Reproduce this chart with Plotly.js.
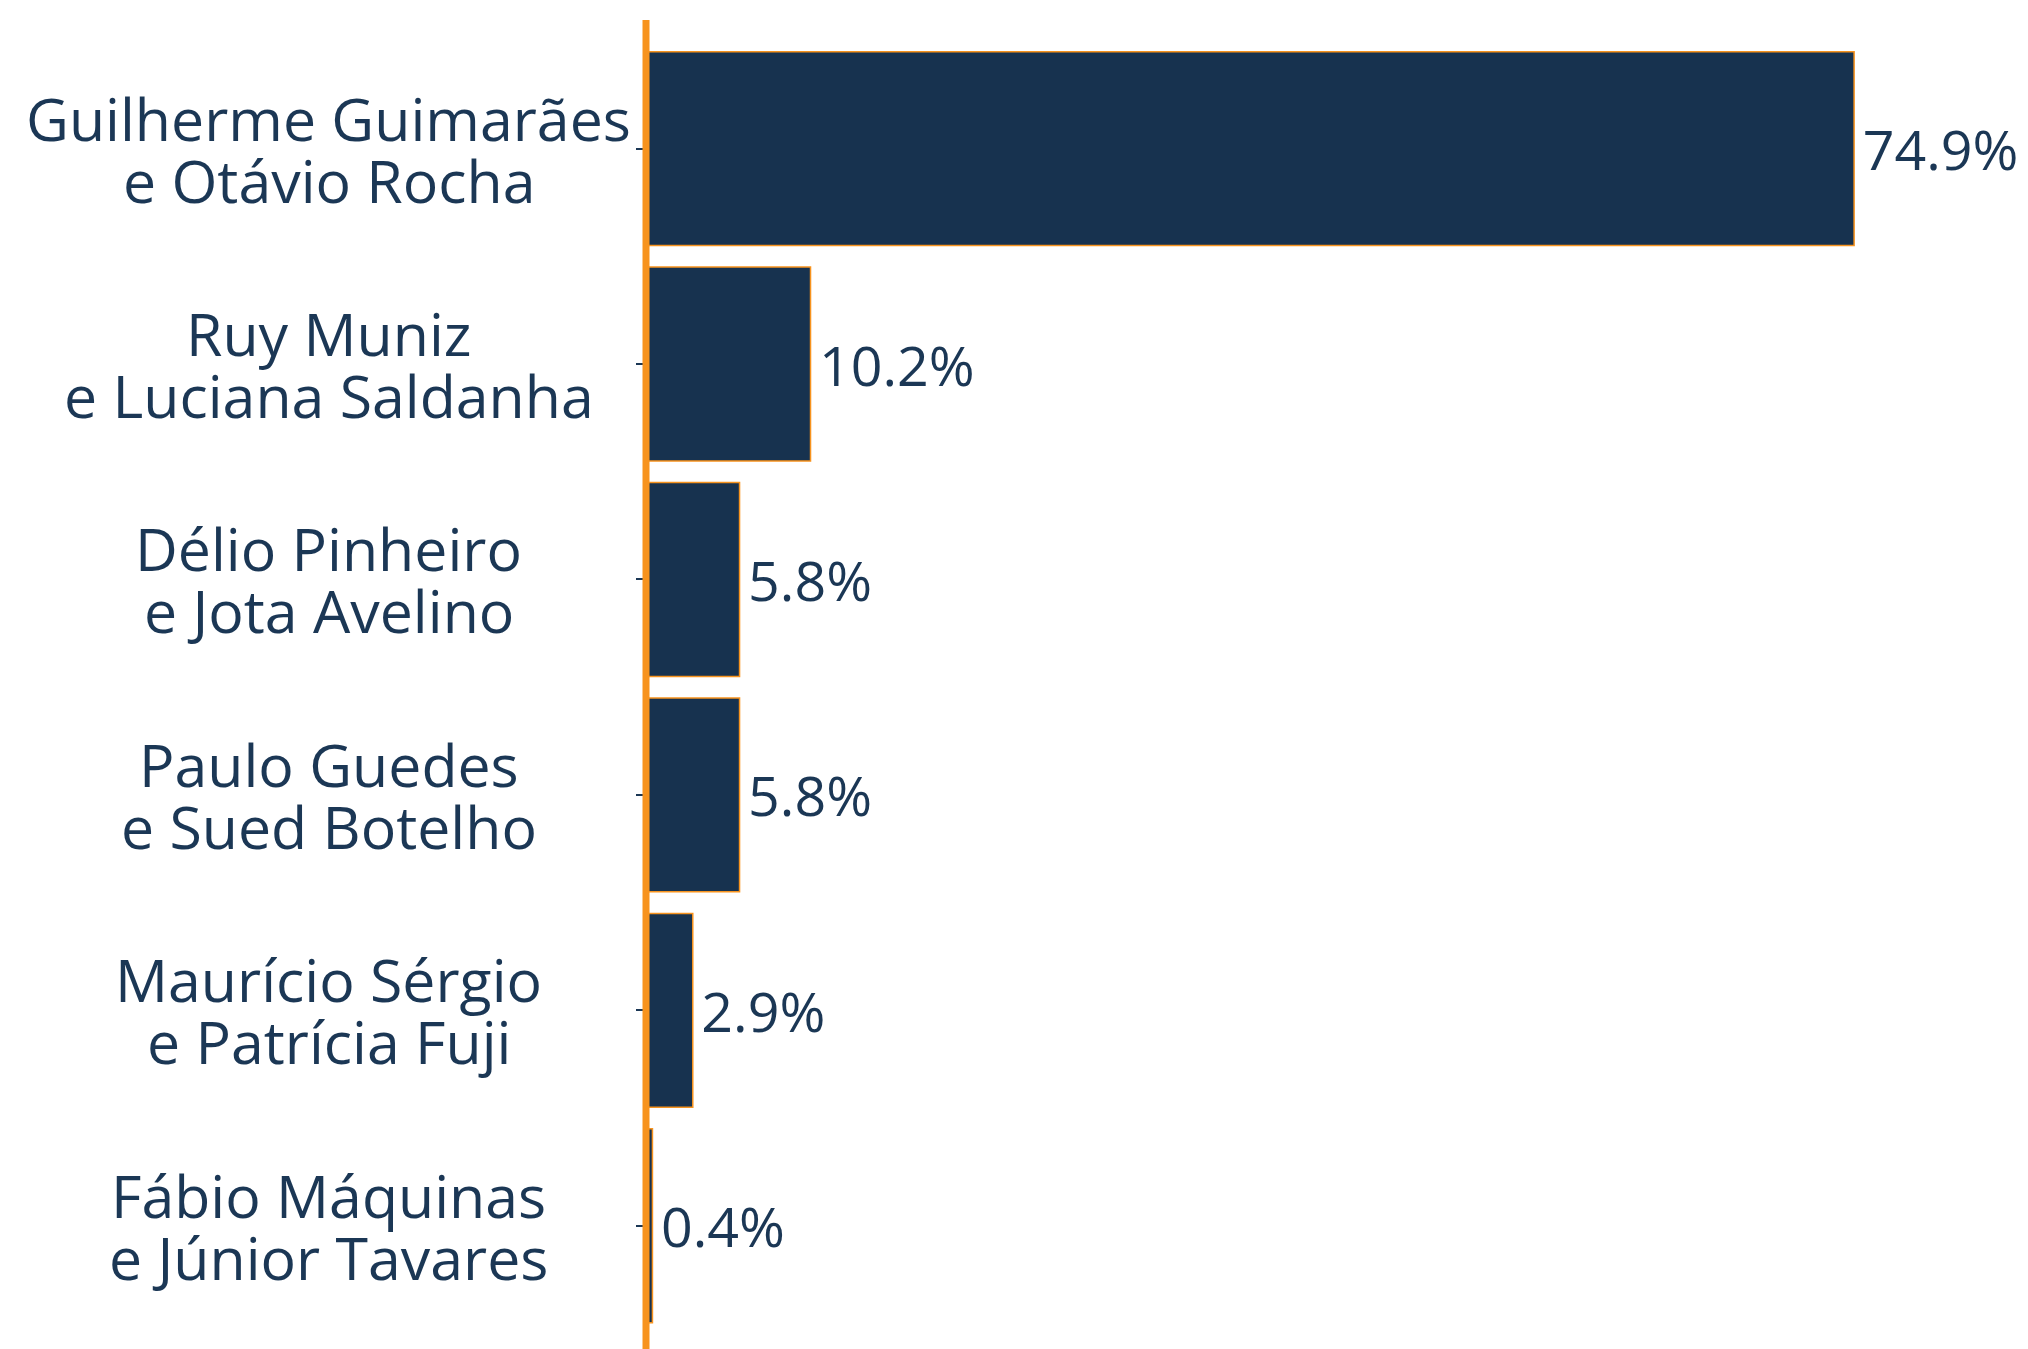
<!DOCTYPE html>
<html>
<head>
<meta charset="utf-8">
<script src="https://cdn.plot.ly/plotly-3.0.1.min.js"></script>
<style>html,body{margin:0;padding:0;background:#fff;}#chart{width:2028px;height:1349px;}</style>
</head>
<body>
<div id="chart"></div>
<script>
// Data
const nameLine1 = ["Guilherme Guimarães", "Ruy Muniz", "Délio Pinheiro", "Paulo Guedes", "Maurício Sérgio", "Fábio Máquinas"];
const nameLine2 = ["e Otávio Rocha", "e Luciana Saldanha", "e Jota Avelino", "e Sued Botelho", "e Patrícia Fuji", "e Júnior Tavares"];
const categories = nameLine1.map((a, i) => a + " " + nameLine2[i]);
const values = [74.9, 10.2, 5.8, 5.8, 2.9, 0.4];

const navy = "#17324f";
const textCol = "#1b3755";
const orange = "#f7931e";
const fontFam = "'Open Sans', 'Noto Sans', sans-serif";

const trace = {
  type: "bar",
  orientation: "h",
  y: categories,
  x: values,
  width: 0.9,
  marker: { color: navy, line: { color: orange, width: 1.5 } },
  text: values.map(v => "\u200A" + v.toFixed(1) + "%"),
  textposition: "outside",
  constraintext: "none",
  cliponaxis: false,
  textfont: { family: fontFam, size: 55.5, color: textCol },
  hoverinfo: "none"
};

const labelX = -0.2294;
const annotations = [];
categories.forEach((c, i) => {
  annotations.push({ xref: "paper", yref: "y", x: labelX, y: c, yshift: 31, xanchor: "center", yanchor: "middle",
    text: nameLine1[i], showarrow: false, font: { family: fontFam, size: 59, color: textCol } });
  annotations.push({ xref: "paper", yref: "y", x: labelX, y: c, yshift: -31, xanchor: "center", yanchor: "middle",
    text: nameLine2[i], showarrow: false, font: { family: fontFam, size: 59, color: textCol } });
});

const layout = {
  width: 2028,
  height: 1349,
  margin: { l: 646, r: 0, t: 20, b: 0, pad: 0 },
  paper_bgcolor: "#ffffff",
  plot_bgcolor: "#ffffff",
  showlegend: false,
  xaxis: { range: [0, 85.68], visible: false, showgrid: false, zeroline: false },
  yaxis: {
    type: "category",
    range: [5.572, -0.597],
    showline: false,
    ticks: "outside", ticklen: 9, tickwidth: 2, tickcolor: textCol,
    showticklabels: false, showgrid: false, zeroline: false
  },
  shapes: [{ type: "line", xref: "paper", yref: "paper", x0: 0, x1: 0, y0: 0, y1: 1, layer: "above",
    line: { color: orange, width: 7 } }],
  annotations: annotations
};

Plotly.newPlot("chart", [trace], layout, { displayModeBar: false, staticPlot: true });
</script>
</body>
</html>
